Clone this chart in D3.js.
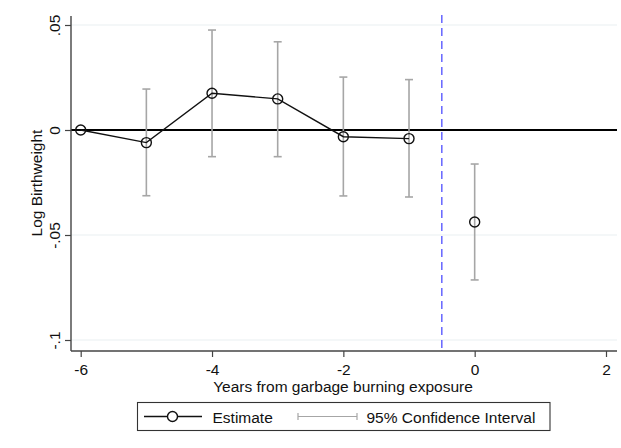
<!DOCTYPE html>
<html>
<head>
<meta charset="utf-8">
<script src="https://cdn.jsdelivr.net/npm/d3@7"></script>
<style>
  html, body { margin: 0; padding: 0; background: #fff; }
  svg { display: block; font-family: "Liberation Sans", Arial, sans-serif; }
</style>
</head>
<body>
<svg id="chart" width="621" height="448"></svg>
<script>
// Event-study estimates: years relative to exposure, point estimate and 95% CI
const years     = [-6, -5, -4, -3, -2, -1, 0];
const estimate  = [0, -0.006, 0.0175, 0.0148, -0.0032, -0.0041, -0.0438];
const ciLow     = [null, -0.0313, -0.0127, -0.0127, -0.0314, -0.0319, -0.0714];
const ciHigh    = [null, 0.0195, 0.0476, 0.0420, 0.0252, 0.0240, -0.0162];
const preYears  = [-6, -5, -4, -3, -2, -1];   // connected by a line
const xTicks    = [-6, -4, -2, 0, 2];
const xTickText = ["-6", "-4", "-2", "0", "2"];
const yTicks    = [0.05, 0, -0.05, -0.1];
const yTickText = [".05", "0", "-.05", "-.1"];
const eventLine = -0.5;

const FONT = "15.5px";
const svg = d3.select("#chart");
const plot = { left: 71, right: 617, top: 16, bottom: 351 };

const x = d3.scaleLinear().domain([-6, 2]).range([80.7, 606]);
const y = d3.scaleLinear().domain([-0.1, 0.05]).range([340, 25]);

const rows = years.map((yr, i) => ({ yr, est: estimate[i], lo: ciLow[i], hi: ciHigh[i] }));

// light horizontal grid
svg.append("g").selectAll("line").data(yTicks.filter(v => v !== 0)).join("line")
  .attr("x1", plot.left).attr("x2", plot.right)
  .attr("y1", d => y(d)).attr("y2", d => y(d))
  .attr("stroke", "#e9f0f2").attr("stroke-width", 1.2);

// reference line at zero
svg.append("line")
  .attr("x1", plot.left).attr("x2", plot.right)
  .attr("y1", y(0)).attr("y2", y(0))
  .attr("stroke", "#000").attr("stroke-width", 1.8);

// exposure onset
svg.append("line")
  .attr("x1", x(eventLine)).attr("x2", x(eventLine))
  .attr("y1", plot.top - 1).attr("y2", plot.bottom)
  .attr("stroke", "#3f3fff").attr("stroke-width", 1.2)
  .attr("stroke-dasharray", "8,5");

// confidence intervals
const ciRows = rows.filter(r => r.lo !== null);
const ci = svg.append("g").attr("stroke", "#a6a6a6").attr("stroke-width", 1.6).attr("fill", "none");
ci.selectAll("line.v").data(ciRows).join("line").attr("class", "v")
  .attr("x1", d => x(d.yr)).attr("x2", d => x(d.yr))
  .attr("y1", d => y(d.hi)).attr("y2", d => y(d.lo));
ci.selectAll("line.hi").data(ciRows).join("line").attr("class", "hi")
  .attr("x1", d => x(d.yr) - 4).attr("x2", d => x(d.yr) + 4)
  .attr("y1", d => y(d.hi)).attr("y2", d => y(d.hi));
ci.selectAll("line.lo").data(ciRows).join("line").attr("class", "lo")
  .attr("x1", d => x(d.yr) - 4).attr("x2", d => x(d.yr) + 4)
  .attr("y1", d => y(d.lo)).attr("y2", d => y(d.lo));

// estimate line over pre-period
const line = d3.line().x(d => x(d.yr)).y(d => y(d.est));
svg.append("path")
  .datum(rows.filter(r => preYears.includes(r.yr)))
  .attr("d", line)
  .attr("fill", "none").attr("stroke", "#111").attr("stroke-width", 1.4);

// hollow markers
svg.append("g").selectAll("circle").data(rows).join("circle")
  .attr("cx", d => x(d.yr)).attr("cy", d => y(d.est)).attr("r", 5)
  .attr("fill", "none").attr("stroke", "#111").attr("stroke-width", 1.4);

// y axis
const yAxis = svg.append("g").attr("transform", `translate(${plot.left},0)`)
  .call(d3.axisLeft(y).tickValues(yTicks).tickSize(6).tickSizeOuter(0)
    .tickFormat((d, i) => yTickText[i]));
yAxis.select(".domain").remove();
yAxis.attr("font-size", null).attr("font-family", null);
yAxis.selectAll(".tick line").attr("stroke", "#444").attr("stroke-width", 1.2);
yAxis.selectAll(".tick text")
  .attr("x", null).attr("dy", null)
  .attr("transform", "translate(-11.5,0) rotate(-90)")
  .attr("text-anchor", "middle")
  .attr("fill", "#111").style("font-size", FONT);

svg.append("line")
  .attr("x1", plot.left).attr("x2", plot.left)
  .attr("y1", plot.top).attr("y2", plot.bottom)
  .attr("stroke", "#444").attr("stroke-width", 1.4);

// x axis
const xAxis = svg.append("g").attr("transform", `translate(0,${plot.bottom})`)
  .call(d3.axisBottom(x).tickValues(xTicks).tickSize(6).tickSizeOuter(0)
    .tickFormat((d, i) => xTickText[i]));
xAxis.select(".domain").remove();
xAxis.attr("font-size", null).attr("font-family", null);
xAxis.selectAll(".tick line").attr("stroke", "#444").attr("stroke-width", 1.2);
xAxis.selectAll(".tick text")
  .attr("y", 23.5).attr("dy", null)
  .attr("fill", "#111").style("font-size", FONT);
svg.append("line")
  .attr("x1", plot.left).attr("x2", plot.right)
  .attr("y1", plot.bottom).attr("y2", plot.bottom)
  .attr("stroke", "#444").attr("stroke-width", 1.4);

// axis titles
svg.append("text")
  .attr("x", 343).attr("y", 391.5)
  .attr("text-anchor", "middle").attr("fill", "#111")
  .style("font-size", FONT)
  .text("Years from garbage burning exposure");
svg.append("text")
  .attr("transform", "translate(41.5,183) rotate(-90)")
  .attr("text-anchor", "middle").attr("fill", "#111")
  .style("font-size", FONT)
  .text("Log Birthweight");

// legend
const lg = svg.append("g");
lg.append("rect")
  .attr("x", 137.5).attr("y", 402.5).attr("width", 412.5).attr("height", 28)
  .attr("fill", "#fff").attr("stroke", "#333").attr("stroke-width", 1.1);
lg.append("line").attr("x1", 144).attr("x2", 202).attr("y1", 416.5).attr("y2", 416.5)
  .attr("stroke", "#111").attr("stroke-width", 1.4);
lg.append("circle").attr("cx", 172.5).attr("cy", 416.5).attr("r", 5)
  .attr("fill", "#fff").attr("stroke", "#111").attr("stroke-width", 1.4);
lg.append("text").attr("x", 212.5).attr("y", 422.5).attr("fill", "#111")
  .style("font-size", FONT).text("Estimate");
const ciLeg = lg.append("g").attr("stroke", "#a6a6a6").attr("stroke-width", 1.2);
ciLeg.append("line").attr("x1", 298).attr("x2", 357).attr("y1", 416.5).attr("y2", 416.5);
ciLeg.append("line").attr("x1", 298).attr("x2", 298).attr("y1", 413).attr("y2", 420);
ciLeg.append("line").attr("x1", 357).attr("x2", 357).attr("y1", 413).attr("y2", 420);
lg.append("text").attr("x", 366.5).attr("y", 422.5).attr("fill", "#111")
  .style("font-size", FONT).text("95% Confidence Interval");
</script>
</body>
</html>
